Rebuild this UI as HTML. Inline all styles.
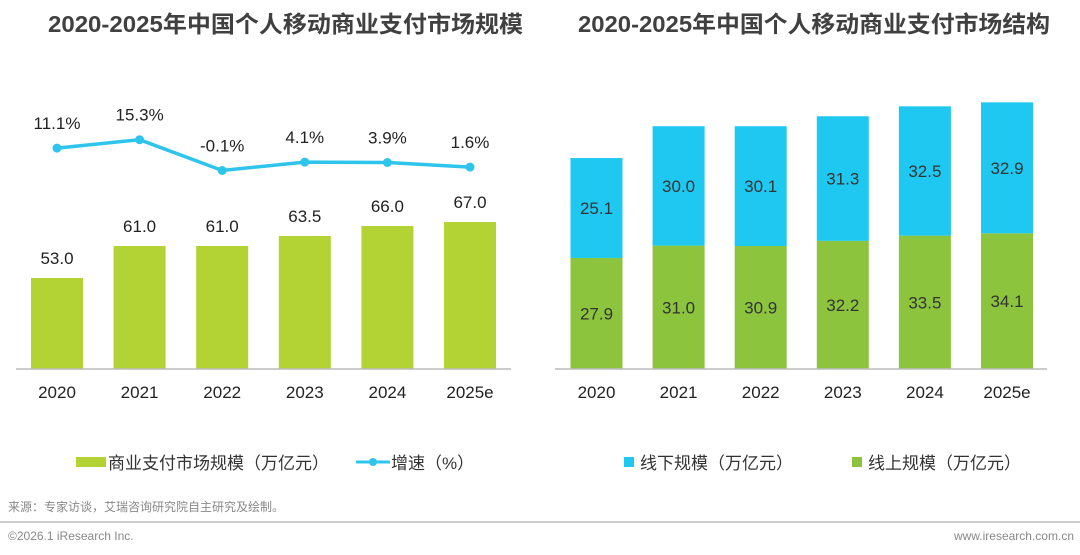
<!DOCTYPE html>
<html><head><meta charset="utf-8"><style>
body{margin:0;width:1080px;height:550px;background:#fff;overflow:hidden;font-family:"Liberation Sans","Noto Sans CJK SC",sans-serif;}
svg text{font-family:"Liberation Sans","Noto Sans CJK SC",sans-serif;}
</style></head><body>
<svg width="1080" height="550">
<text x="48" y="32" textLength="475" lengthAdjust="spacingAndGlyphs" font-size="23" font-weight="bold" fill="#404040">2020-2025年中国个人移动商业支付市场规模</text>
<text x="578" y="32" textLength="472" lengthAdjust="spacingAndGlyphs" font-size="23" font-weight="bold" fill="#404040">2020-2025年中国个人移动商业支付市场结构</text>
<g id="left"></g><g id="right"></g>
<rect x="76" y="457" width="30" height="10" fill="#b3d234"/>
<text x="108" y="469" font-size="17" fill="#333">商业支付市场规模（万亿元）</text>
<line x1="356" y1="462" x2="390" y2="462" stroke="#2ec4ec" stroke-width="3"/>
<circle cx="373" cy="462" r="4" fill="#2ec4ec"/>
<text x="391" y="469" font-size="17" fill="#333">增速（%）</text>
<rect x="624" y="457" width="10" height="10" fill="#1ec8f0"/>
<text x="640" y="469" font-size="17" fill="#333">线下规模（万亿元）</text>
<rect x="852" y="457" width="10" height="10" fill="#8cc43e"/>
<text x="868" y="469" font-size="17" fill="#333">线上规模（万亿元）</text>
<text x="8" y="511" font-size="12" fill="#888">来源：专家访谈，艾瑞咨询研究院自主研究及绘制。</text>
<line x1="0" y1="522" x2="1080" y2="522" stroke="#999" stroke-width="1"/>
<text x="8" y="540" font-size="12" fill="#888">©2026.1 iResearch Inc.</text>
<text x="1074" y="540" text-anchor="end" font-size="12" fill="#888">www.iresearch.com.cn</text>
</svg>
<script>
const years=["2020","2021","2022","2023","2024","2025e"];
const market=[53.0,61.0,61.0,63.5,66.0,67.0];
const growth=[11.1,15.3,-0.1,4.1,3.9,1.6];
const offline=[25.1,30.0,30.1,31.3,32.5,32.9];
const online=[27.9,31.0,30.9,32.2,33.5,34.1];
const NS="http://www.w3.org/2000/svg";
function mk(p,t,a){const e=document.createElementNS(NS,t);for(const k in a)e.setAttribute(k,a[k]);p.appendChild(e);return e;}
const base=369;
const lx=i=>57+i*82.6, ly=v=>base-4*(v-30.25), gy=v=>170.5-2*(v+0.1);
const rx=i=>596.5+i*82.1, ry=v=>base-3.98*v;
const L=document.getElementById('left'),R=document.getElementById('right');
years.forEach((y,i)=>{
 let b=mk(L,'rect',{x:lx(i)-26,y:ly(market[i]),width:52,height:base-ly(market[i]),fill:'#b3d234'});
 
 
 let t=mk(L,'text',{x:lx(i),y:ly(market[i])-14,'text-anchor':'middle','font-size':17,fill:'#222'});t.textContent=market[i].toFixed(1);
 
 
 let a=mk(L,'text',{x:lx(i),y:base+29,'text-anchor':'middle','font-size':17,fill:'#222'});a.textContent=y;
 
 
 let g=mk(R,'rect',{x:rx(i)-26,y:ry(online[i]),width:52,height:base-ry(online[i]),fill:'#8cc43e'});
 
 
 let o=mk(R,'rect',{x:rx(i)-26,y:ry(online[i]+offline[i]),width:52,height:ry(online[i])-ry(online[i]+offline[i]),fill:'#1ec8f0'});
 
 
 let t1=mk(R,'text',{x:rx(i),y:(ry(online[i])+base)/2+6,'text-anchor':'middle','font-size':17,fill:'#333'});t1.textContent=online[i].toFixed(1);
 
 
 let t2=mk(R,'text',{x:rx(i),y:(ry(online[i])+ry(online[i]+offline[i]))/2+6,'text-anchor':'middle','font-size':17,fill:'#333'});t2.textContent=offline[i].toFixed(1);
 
 
 let a2=mk(R,'text',{x:rx(i),y:base+29,'text-anchor':'middle','font-size':17,fill:'#222'});a2.textContent=y;
 
 
});
let ax=mk(L,'line',{x1:16,y1:base,x2:511,y2:base,stroke:'#bbb','stroke-width':1.5});


let ax2=mk(R,'line',{x1:555,y1:base,x2:1047,y2:base,stroke:'#bbb','stroke-width':1.5});


let pl=mk(L,'polyline',{points:growth.map((v,i)=>lx(i)+','+gy(v)).join(' '),fill:'none',stroke:'#2ec4ec','stroke-width':3.5});


growth.forEach((v,i)=>{
 let c=mk(L,'circle',{cx:lx(i),cy:gy(v),r:4.5,fill:'#2ec4ec'});
 
 
 let t=mk(L,'text',{x:lx(i),y:gy(v)-19,'text-anchor':'middle','font-size':17,fill:'#222'});t.textContent=v.toFixed(1)+'%';
 
 
});
</script>
</body></html>
